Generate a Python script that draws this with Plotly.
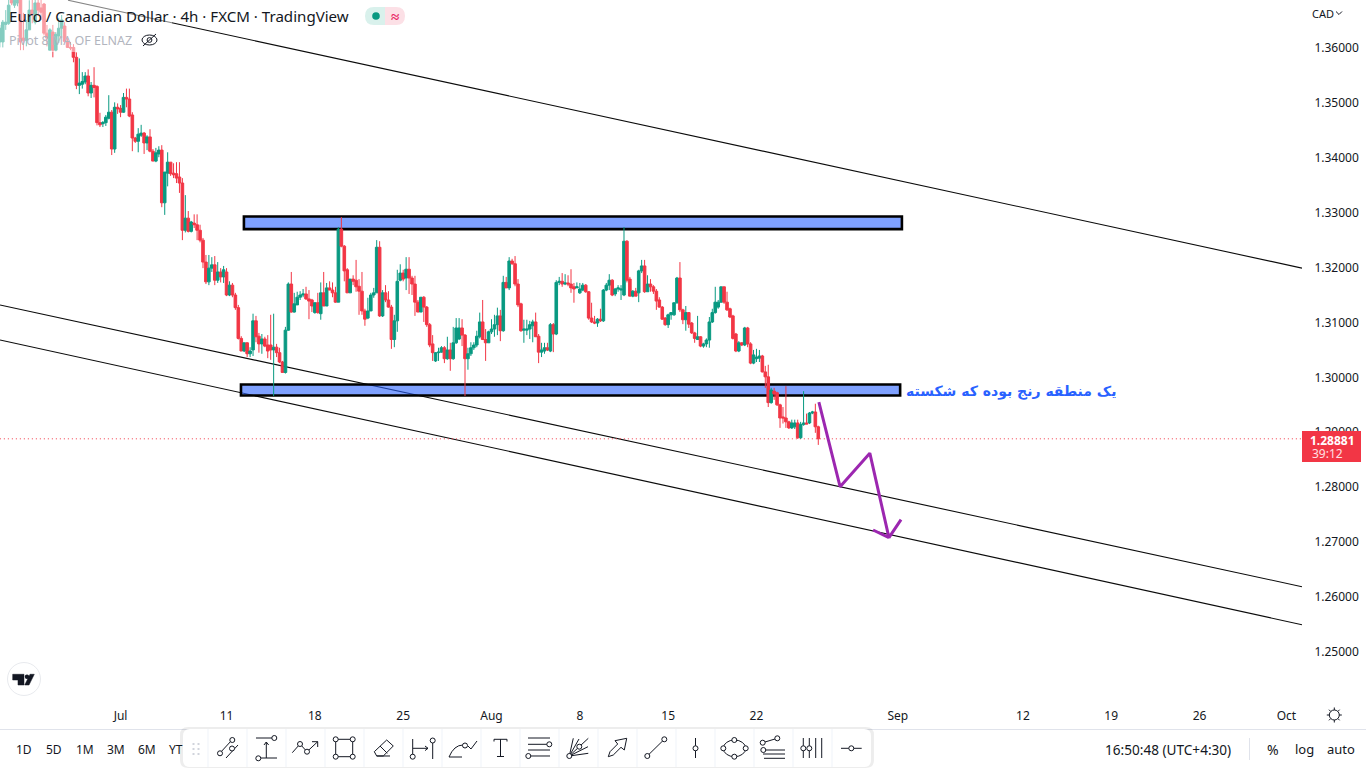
import plotly.graph_objects as go

# EUR/CAD 4h candles, prices in pips (price * 10000)
opens = [13611,13611,13643,13645,13693,13678,13682,13689,13618,13614,
13633,13669,13647,13682,13673,13680,13627,13596,13629,13596,
13622,13636,13640,13612,13601,13601,13583,13532,13534,13538,
13549,13518,13532,13530,13464,13462,13464,13472,13483,13416,
13492,13490,13483,13510,13507,13478,13436,13430,13441,13445,
13427,13438,13412,13394,13407,13414,13318,13372,13392,13372,
13371,13365,13354,13268,13290,13266,13281,13278,13268,13250,
13210,13174,13199,13205,13177,13192,13183,13192,13150,13168,
13150,13127,13071,13048,13063,13043,13050,13103,13075,13061,
13070,13059,13059,13050,13055,13045,13028,13009,13086,13170,
13119,13132,13146,13150,13152,13143,13141,13118,13136,13116,
13154,13130,13163,13159,13154,13137,13270,13239,13196,13154,
13179,13177,13166,13157,13121,13108,13121,13150,13154,13237,
13112,13154,13141,13128,13069,13103,13177,13190,13181,13197,
13181,13170,13137,13119,13146,13128,13096,13061,13030,13045,
13046,13054,13034,13050,13034,13063,13070,13090,13077,13034,
13043,13054,13059,13074,13101,13069,13063,13083,13088,13096,
13112,13085,13173,13163,13212,13207,13170,13134,13086,13086,
13088,13094,13101,13075,13046,13048,13054,13048,13096,13079,
13173,13175,13170,13172,13170,13165,13163,13154,13159,13168,
13156,13108,13101,13099,13106,13103,13159,13168,13177,13152,
13161,13159,13150,13248,13179,13148,13157,13154,13194,13203,
13156,13170,13165,13157,13141,13128,13108,13096,13114,13114,
13136,13181,13123,13105,13118,13099,13081,13069,13074,13057,
13061,13068,13101,13118,13128,13137,13165,13137,13125,13112,
13079,13048,13063,13059,13090,13061,13026,13034,13035,13039,
13010,13001,12954,12975,12972,12950,12928,12926,12919,12908,
12910,12917,12890,12914,12917,12917,12935,12937,12910]
highs = [13642,13651,13669,13691,13698,13698,13698,13696,13664,13651,
13687,13693,13696,13698,13691,13682,13642,13636,13642,13629,
13655,13660,13647,13618,13611,13607,13592,13581,13556,13556,
13561,13538,13565,13532,13482,13467,13478,13514,13487,13501,
13499,13496,13518,13526,13526,13483,13438,13454,13460,13447,
13441,13452,13416,13418,13421,13423,13374,13410,13392,13390,
13392,13392,13363,13332,13303,13285,13297,13297,13278,13254,
13223,13223,13219,13221,13210,13199,13203,13199,13175,13172,
13154,13132,13075,13062,13064,13055,13116,13112,13081,13079,
13074,13077,13114,13116,13061,13054,13030,13092,13173,13192,
13154,13156,13157,13161,13165,13159,13143,13136,13154,13173,
13192,13172,13175,13173,13165,13274,13292,13241,13199,13179,
13186,13214,13179,13192,13125,13145,13154,13163,13250,13248,
13159,13168,13157,13132,13114,13196,13206,13196,13219,13219,
13185,13185,13141,13146,13148,13130,13099,13077,13046,13054,
13057,13057,13074,13063,13092,13108,13108,13106,13079,13054,
13064,13064,13085,13118,13141,13088,13085,13106,13114,13127,
13123,13185,13183,13219,13216,13221,13179,13136,13105,13105,
13103,13105,13118,13079,13063,13063,13063,13099,13099,13177,
13183,13190,13188,13186,13197,13172,13173,13172,13172,13170,
13157,13136,13112,13108,13125,13161,13172,13188,13179,13163,
13168,13168,13274,13250,13183,13159,13163,13196,13214,13214,
13186,13179,13168,13161,13146,13130,13110,13116,13118,13136,
13183,13210,13125,13130,13119,13101,13083,13112,13075,13063,
13071,13110,13125,13165,13141,13165,13165,13156,13127,13114,
13081,13066,13064,13092,13092,13064,13050,13052,13050,13041,
13021,13023,12981,12981,12974,12952,12946,12984,12921,12923,
12923,12923,12919,12975,12934,12937,12939,12952,12912]
lows = [13601,13601,13633,13642,13678,13673,13676,13596,13596,13603,
13633,13645,13643,13658,13651,13623,13603,13596,13583,13594,
13609,13618,13609,13600,13596,13574,13525,13516,13526,13534,
13512,13509,13510,13459,13456,13456,13458,13470,13405,13409,
13480,13474,13482,13492,13474,13412,13427,13410,13438,13407,
13414,13410,13394,13392,13401,13310,13296,13348,13367,13363,
13354,13336,13250,13264,13264,13264,13272,13250,13246,13199,
13170,13168,13192,13168,13172,13173,13172,13148,13148,13146,
13123,13069,13048,13046,13037,13037,13039,13064,13045,13043,
13055,13035,13032,12966,13037,13026,13009,13007,13085,13118,
13118,13132,13141,13146,13141,13106,13119,13116,13116,13105,
13130,13130,13159,13146,13136,13137,13237,13175,13154,13154,
13168,13156,13114,13114,13094,13106,13134,13145,13154,13110,
13110,13137,13127,13052,13055,13083,13175,13175,13159,13152,
13150,13112,13119,13119,13101,13092,13055,13030,13028,13030,
13045,13026,13032,13012,13032,13061,13068,13057,12966,13014,
13039,13050,13055,13071,13068,13030,13063,13079,13074,13077,
13066,13083,13163,13159,13205,13166,13128,13083,13063,13077,
13070,13064,13074,13026,13037,13043,13048,13046,13046,13077,
13168,13165,13168,13166,13154,13136,13163,13152,13157,13154,
13105,13099,13097,13092,13101,13101,13157,13159,13148,13148,
13156,13141,13148,13173,13148,13146,13148,13137,13190,13154,
13156,13156,13152,13123,13127,13105,13094,13090,13105,13112,
13134,13119,13097,13085,13090,13079,13063,13069,13055,13054,
13055,13054,13099,13116,13125,13136,13134,13121,13108,13069,
13046,13046,13057,13057,13055,13024,13024,13028,13028,13009,
12981,12946,12952,12959,12948,12908,12916,12908,12906,12906,
12906,12888,12888,12912,12915,12915,12933,12899,12877]
closes = [13636,13647,13647,13678,13682,13687,13691,13611,13614,13633,
13669,13660,13682,13669,13665,13627,13618,13633,13596,13625,
13636,13651,13612,13601,13600,13583,13532,13536,13539,13549,
13518,13532,13528,13464,13460,13464,13474,13483,13416,13492,
13489,13483,13510,13507,13476,13436,13430,13443,13445,13427,
13438,13412,13394,13409,13414,13318,13374,13392,13371,13369,
13363,13354,13268,13290,13266,13283,13278,13268,13250,13210,
13174,13199,13205,13177,13192,13183,13196,13150,13168,13150,
13127,13071,13048,13063,13043,13048,13103,13074,13061,13070,
13057,13048,13050,13055,13045,13028,13009,13086,13170,13119,
13134,13146,13150,13152,13143,13139,13130,13136,13118,13154,
13130,13163,13159,13154,13137,13270,13239,13194,13154,13179,
13175,13165,13157,13121,13106,13121,13150,13154,13237,13112,
13154,13141,13128,13069,13103,13175,13190,13179,13197,13181,
13170,13137,13119,13146,13128,13096,13059,13045,13045,13046,
13054,13034,13050,13034,13063,13090,13090,13077,13034,13043,
13054,13059,13075,13101,13069,13063,13083,13088,13096,13112,
13085,13173,13163,13212,13207,13170,13132,13085,13088,13088,
13096,13101,13074,13046,13050,13054,13050,13096,13079,13173,
13175,13170,13172,13170,13163,13161,13165,13161,13168,13156,
13108,13101,13099,13106,13103,13159,13168,13177,13150,13161,
13163,13161,13248,13177,13148,13157,13148,13194,13203,13156,
13170,13165,13157,13139,13128,13106,13096,13114,13118,13136,
13181,13123,13105,13118,13097,13081,13071,13074,13057,13061,
13068,13101,13118,13137,13137,13165,13137,13123,13110,13071,
13048,13063,13059,13090,13061,13026,13041,13037,13039,13010,
13001,12954,12977,12970,12950,12926,12926,12919,12908,12917,
12917,12890,12914,12917,12915,12935,12937,12910,12888.1]

bar_index = list(range(len(opens)))
x_tick_positions = [41, 77, 107, 137, 167, 197, 227, 257, 305, 347.5, 377.5, 407.5, 437]
x_tick_labels = ["Jul", "11", "18", "25", "Aug", "8", "15", "22", "Sep", "12", "19", "26", "Oct"]
last_price = 1.28881

# Drawings, in (bar index, price)
trend_a = [(23.15, 1.3687), (442.3, 1.3199)]
trend_b = [(0.05, 1.3132), (442.3, 1.26187)]
trend_c = [(0.05, 1.3068), (442.3, 1.25495)]
zone_top = (82.9, 306.4, 1.3270, 1.3293)
zone_bottom = (81.9, 305.8, 1.2967, 1.2987)
path_x = [278.2, 285.4, 295.5, 302.0, 306.1]
path_y = [1.2955, 1.2801, 1.2862, 1.2708, 1.2741]
head_x = [296.6, 302.0]
head_y = [1.2722, 1.2708]

UP, DOWN = "#089981", "#F23645"
INK = "#131722"
FONT = "Noto Sans"
PW, PH = 1302, 703


def X(px):
    return px / PW


def Y(py):
    return 1 - py / PH


def pth(points, close=False):
    s = "M " + " L ".join(f"{X(a):.5f} {Y(b):.5f}" for a, b in points)
    return s + (" Z" if close else "")


shapes = []


def line(points, color=INK, width=1, close=False, fill=None):
    d = dict(type="path", xref="paper", yref="paper", path=pth(points, close), layer="above",
             line=dict(color=color, width=width))
    if fill:
        d["fillcolor"] = fill
    shapes.append(d)


def circle(cx, cy, r=2.5, color=INK, fill="white", width=1):
    shapes.append(dict(type="circle", xref="paper", yref="paper", layer="above",
                       x0=X(cx - r), x1=X(cx + r), y0=Y(cy + r), y1=Y(cy - r),
                       fillcolor=fill, line=dict(color=color, width=width)))


def rect(x0, y0, x1, y1, fill, color="rgba(0,0,0,0)"):
    shapes.append(dict(type="rect", xref="paper", yref="paper", layer="above",
                       x0=X(x0), x1=X(x1), y0=Y(y1), y1=Y(y0), fillcolor=fill,
                       line=dict(color=color, width=0)))


def rounded(x0, y0, x1, y1, r, fill):
    s = (f"M {X(x0+r):.5f} {Y(y0):.5f} L {X(x1-r):.5f} {Y(y0):.5f} Q {X(x1):.5f} {Y(y0):.5f} {X(x1):.5f} {Y(y0+r):.5f} "
         f"L {X(x1):.5f} {Y(y1-r):.5f} Q {X(x1):.5f} {Y(y1):.5f} {X(x1-r):.5f} {Y(y1):.5f} "
         f"L {X(x0+r):.5f} {Y(y1):.5f} Q {X(x0):.5f} {Y(y1):.5f} {X(x0):.5f} {Y(y1-r):.5f} "
         f"L {X(x0):.5f} {Y(y0+r):.5f} Q {X(x0):.5f} {Y(y0):.5f} {X(x0+r):.5f} {Y(y0):.5f} Z")
    shapes.append(dict(type="path", xref="paper", yref="paper", layer="above", path=s,
                       fillcolor=fill, line=dict(width=0, color="rgba(0,0,0,0)")))


# trend lines and zones sit under the candles
for seg in (trend_a, trend_b, trend_c):
    shapes.append(dict(type="line", layer="below", x0=seg[0][0], y0=seg[0][1], x1=seg[1][0], y1=seg[1][1],
                       line=dict(color="#0b0b0b", width=1.1)))
for z in (zone_top, zone_bottom):
    shapes.append(dict(type="rect", layer="below", x0=z[0], x1=z[1], y0=z[2], y1=z[3],
                       fillcolor="rgba(41,98,255,0.6)", line=dict(color="#000000", width=2.6)))
shapes.append(dict(type="line", layer="below", x0=0, x1=442.3, y0=last_price, y1=last_price,
                   line=dict(color=DOWN, width=1, dash="1px,3px")))

# legend veil, bottom separator, price box
rect(0, 0, 172, 52, "rgba(255,255,255,0.5)")
rect(0, 729, 1366, 730, "#E0E3EB")
rect(1302, 431, 1361, 462, DOWN)

# status pill
shapes.append(dict(type="path", xref="paper", yref="paper", layer="above", fillcolor="#D9F1EC",
                   line=dict(width=0, color="rgba(0,0,0,0)"),
                   path=f"M {X(385)} {Y(7)} L {X(374)} {Y(7)} Q {X(365)} {Y(7)} {X(365)} {Y(16)} Q {X(365)} {Y(25)} {X(374)} {Y(25)} L {X(385)} {Y(25)} Z"))
shapes.append(dict(type="path", xref="paper", yref="paper", layer="above", fillcolor="#FCE0E6",
                   line=dict(width=0, color="rgba(0,0,0,0)"),
                   path=f"M {X(385)} {Y(7)} L {X(396)} {Y(7)} Q {X(405)} {Y(7)} {X(405)} {Y(16)} Q {X(405)} {Y(25)} {X(396)} {Y(25)} L {X(385)} {Y(25)} Z"))
circle(376, 16, 3.8, UP, UP, 0)

# eye-off icon
shapes.append(dict(type="circle", xref="paper", yref="paper", layer="above", x0=X(142), x1=X(157), y0=Y(45), y1=Y(35),
                   line=dict(color=INK, width=1)))
circle(149.5, 40, 2.4, INK, "rgba(0,0,0,0)")
line([(143, 46), (156, 34)])

# currency caret and settings icon
line([(1336, 11.5), (1339, 14.5), (1342, 11.5)], "#131722")
circle(1334.3, 715, 5, INK, "white")
for a, b, c, d in [(1334.3, 707.5, 1334.3, 710), (1334.3, 720, 1334.3, 722.5), (1326.8, 715, 1329.3, 715),
                   (1339.3, 715, 1341.8, 715), (1329, 709.7, 1330.7, 711.4), (1338, 718.6, 1339.6, 720.3),
                   (1329, 720.3, 1330.7, 718.6), (1338, 711.4, 1339.6, 709.7)]:
    line([(a, b), (c, d)])
line([(1249.5, 738), (1249.5, 760)], "#E0E3EB")

# TradingView badge
circle(24, 679, 16.5, "#E8EAEE", "white", 1)
line([(12.7, 674.3), (24, 674.3), (24, 685), (18, 685), (18, 680), (12.7, 680)], "#131722", 0.5, True, "#131722")
line([(24.7, 685), (30, 674.3), (34.3, 674.3), (29, 685)], "#131722", 0.5, True, "#131722")
circle(27, 676.7, 2.2, "#131722", "#131722", 0)

# floating drawing toolbar
rounded(180, 727, 874, 768, 8, "rgba(0,0,0,0.07)")
rounded(183, 729, 871, 767, 7, "#FFFFFF")
for sx in [207.5, 246.5, 285.5, 324.5, 363.5, 402.5, 441.5, 480.5, 519.5, 558.5, 597.5, 636.5, 675.5, 714.5, 753.5, 792.5, 831.5]:
    rect(sx, 729, sx + 1, 767, "#F0F3FA")
for gx in (192.5, 197.5):
    for gy in (743, 748, 753):
        rect(gx, gy, gx + 2, gy + 2, "#D1D4DC")

# 1 parallel
line([(220, 753), (232, 740)]); line([(226, 758), (238, 745)])
circle(220, 753.3); circle(232.3, 740); circle(232, 748.5)
# 2 price range
line([(256, 738), (272, 738)]); line([(260, 758), (277, 758)]); line([(266.3, 758), (266.3, 742)])
line([(264, 745), (266.3, 742), (268.6, 745)]); circle(274.3, 738); circle(258.3, 758.3)
# 3 polyline
line([(292.3, 752.7), (300, 744), (307, 751.7), (317.7, 741.7)]); line([(312, 741.7), (317.7, 741.7), (317.7, 747)])
circle(300, 744); circle(307, 751.7)
# 4 rectangle
line([(335.7, 739.3), (352.7, 739.3), (352.7, 756.7), (335.7, 756.7)], close=True)
for p in [(335.7, 739.3), (352.7, 739.3), (352.7, 756.7), (335.7, 756.7)]:
    circle(*p)
# 5 eraser
line([(374.3, 751.7), (386.7, 740), (393.3, 746), (383.3, 756), (376.7, 756)], close=True)
line([(376.7, 756), (390, 756)]); line([(380, 746), (387.3, 753.3)])
# 6 date range
line([(412.7, 739), (412.7, 757)]); line([(432.7, 743), (432.7, 759)]); line([(413, 748.3), (428, 748.3)])
line([(425, 746), (428, 748.3), (425, 750.6)]); circle(412.7, 756.7); circle(432.7, 740.5)
# 7 brush curve
shapes.append(dict(type="path", xref="paper", yref="paper", layer="above", line=dict(color=INK, width=1),
                   path=f"M {X(449)} {Y(757)} Q {X(454)} {Y(745)} {X(463)} {Y(745)} M {X(449)} {Y(757)} L {X(462)} {Y(757)}"))
circle(465, 745.5); line([(468, 746), (471, 749), (477, 741)])
# 8 text
line([(494, 741.5), (494, 739.3), (507, 739.3), (507, 741.5)]); line([(500.5, 739.3), (500.5, 756.5)]); line([(497, 756.5), (504, 756.5)])
# 9 channel lines
line([(528, 738), (550, 738)]); line([(528, 744.3), (547, 744.3)]); line([(528, 750), (550, 750)]); line([(531, 756), (550, 756)])
circle(549.3, 744.3); circle(528.3, 756)
# 10 fan
for tip in [(573.3, 738.3), (579, 739), (588.3, 738.3), (588, 746.7), (588.3, 753.3)]:
    line([(569.3, 756), tip])
circle(569.3, 756); circle(579.3, 746.7)
# 11 arrow
line([(608.3, 756.7), (610, 751.7), (617.7, 744), (615, 740.7), (626.7, 738.3), (624.3, 750), (621, 747.3), (613.3, 755)], close=True)
# 12 segment
line([(647.3, 756), (664.3, 739.3)]); circle(647.3, 756); circle(664.3, 739.3)
# 13 vertical
line([(695.5, 738), (695.5, 758)]); circle(695.5, 748.3)
# 14 ellipse
shapes.append(dict(type="circle", xref="paper", yref="paper", layer="above", x0=X(723.3), x1=X(745.7), y0=Y(756.7), y1=Y(740),
                   line=dict(color=INK, width=1)))
for p in [(723.3, 748.3), (734.3, 740), (745.7, 748.3), (734.3, 756.7)]:
    circle(*p)
# 15 forecast
line([(762.7, 742.7), (777.3, 738.3)]); line([(763, 750), (785, 750)]); line([(763, 754), (785, 754)]); line([(764, 758.3), (785, 758.3)])
circle(762.7, 742.7); circle(777.3, 738.3); circle(763.3, 750)
# 16 cycle lines
for vx in (803.3, 809.3, 815.7, 821.7):
    line([(vx, 738), (vx, 758)])
circle(803.3, 748.3); circle(809.3, 748.3)
# 17 horizontal
line([(841, 748.3), (861.7, 748.3)]); circle(851.3, 748.3)


def note(text, px, py, size=12, color=INK, anchor="left", family=FONT, weight=None):
    t = f"<b>{text}</b>" if weight else text
    return dict(text=t, x=X(px), y=Y(py), xref="paper", yref="paper", showarrow=False, xanchor=anchor,
                yanchor="middle", font=dict(size=size, color=color, family=family), borderpad=0, borderwidth=0)


annotations = [
    note("Euro / Canadian Dollar · 4h · FXCM · TradingView", 9, 16, 15.1, "#131722"),
    note("Pivot 8 MA OF ELNAZ", 9, 40, 12.5, "#B2B5BE"),
    note("≈", 394.5, 15.5, 15, "#E91E63", "center", FONT, True),
    note("CAD", 1312, 13, 11, "#131722"),
    note("1.28881", 1332, 440, 12, "#FFFFFF", "center", FONT, True),
    note("39:12", 1327, 453, 12, "#FFE0E3", "center"),
    note("یک منطقه رنج بوده که شکسته", 1116, 391, 14, "#2962FF", "right", "DejaVu Sans", True),
    note("16:50:48 (UTC+4:30)", 1105, 749, 13.6, "#131722"),
    note("%", 1273, 749, 14, "#131722", "center"),
    note("log", 1304, 749, 13, "#131722", "center"),
    note("auto", 1341, 749, 13, "#131722", "center"),
]
for label, cx in zip(["1D", "5D", "1M", "3M", "6M", "YT"], [24, 54, 85, 116, 147, 176]):
    annotations.append(note(label, cx, 749, 12, "#131722", "center"))

fig = go.Figure()
fig.add_trace(go.Candlestick(
    x=bar_index,
    open=[v / 10000 for v in opens], high=[v / 10000 for v in highs],
    low=[v / 10000 for v in lows], close=[v / 10000 for v in closes],
    increasing=dict(line=dict(color=UP, width=1), fillcolor=UP),
    decreasing=dict(line=dict(color=DOWN, width=1), fillcolor=DOWN),
    whiskerwidth=0, showlegend=False))
fig.add_trace(go.Scatter(x=path_x, y=path_y, mode="lines", line=dict(color="#9C27B0", width=3), showlegend=False, hoverinfo="skip"))
fig.add_trace(go.Scatter(x=head_x, y=head_y, mode="lines", line=dict(color="#9C27B0", width=3), showlegend=False, hoverinfo="skip"))

fig.update_layout(
    width=1366, height=768, margin=dict(l=0, r=64, t=0, b=65, autoexpand=False),
    paper_bgcolor="white", plot_bgcolor="white", showlegend=False,
    boxgap=0.12, boxgroupgap=0,
    shapes=shapes, annotations=annotations,
    font=dict(family=FONT, color=INK, size=12),
    xaxis=dict(range=[0.05, 442.3], rangeslider=dict(visible=False), showgrid=False, zeroline=False, showline=False,
               tickmode="array", tickvals=x_tick_positions, ticktext=x_tick_labels, ticks="outside", ticklen=2,
               tickcolor="rgba(0,0,0,0)", tickfont=dict(size=12, color="#131722", family=FONT)),
    yaxis=dict(range=[1.24069, 1.36874], side="right", showgrid=False, zeroline=False, showline=False,
               tick0=1.25, dtick=0.01, tickformat=".5f", ticks="outside", ticklen=9, tickcolor="rgba(0,0,0,0)",
               tickfont=dict(size=12, color="#131722", family=FONT)),
)
fig.write_html("out.html", config=dict(displayModeBar=False),
               post_script="document.body.style.margin='0';document.body.style.overflow='hidden';")
